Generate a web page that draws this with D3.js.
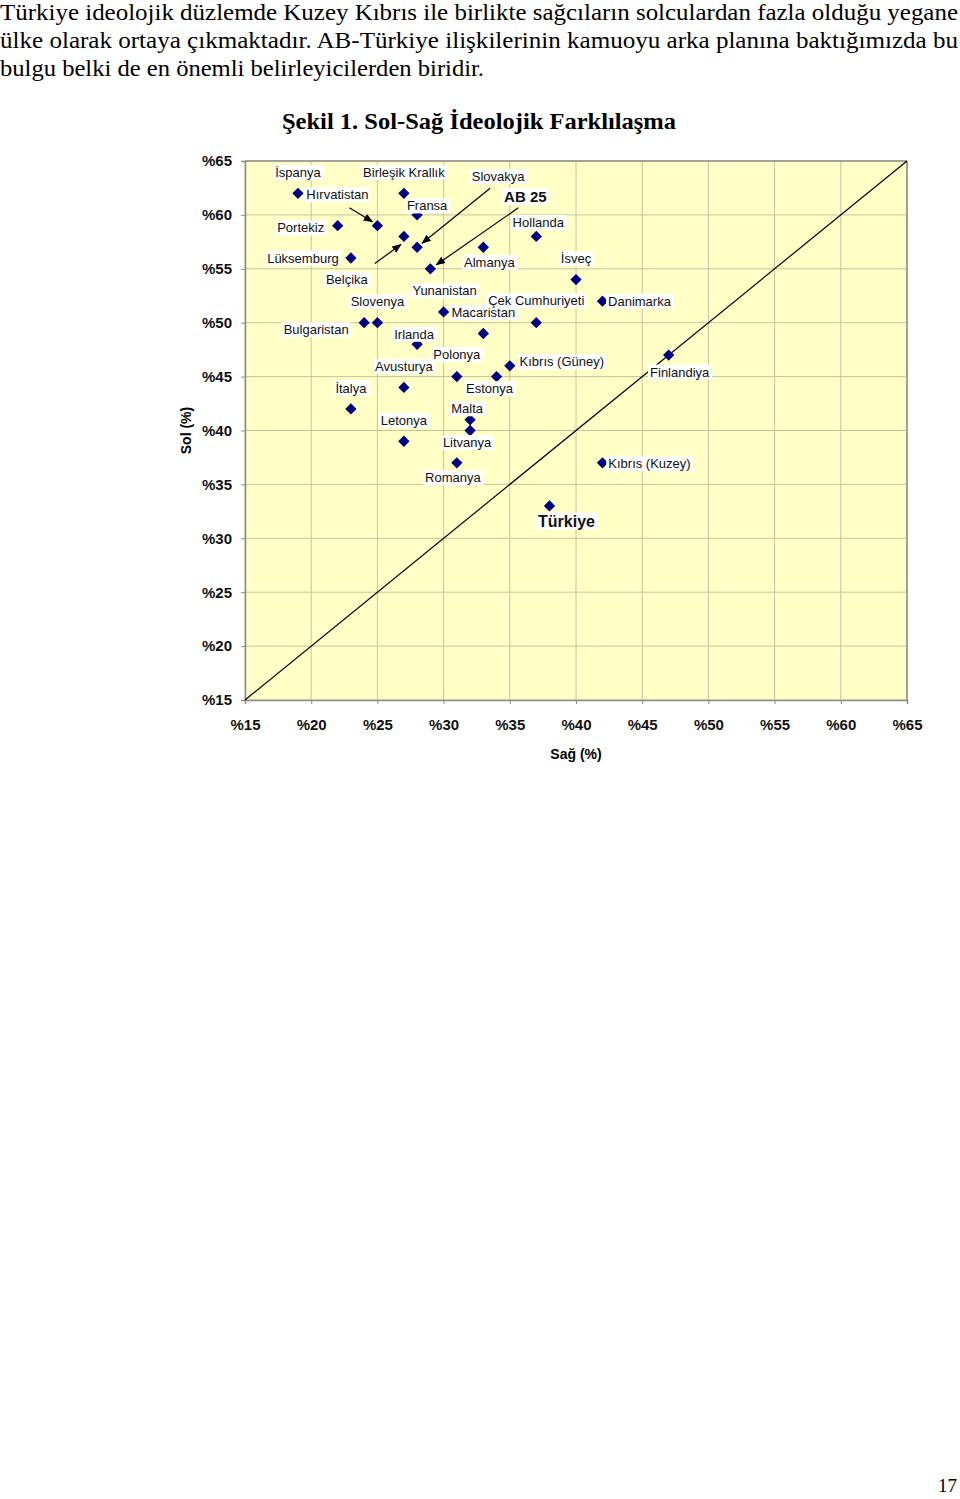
<!DOCTYPE html>
<html><head><meta charset="utf-8">
<script src="https://cdn.jsdelivr.net/npm/d3@7"></script>
<style>body{margin:0;background:#fff}svg{display:block}</style>
</head><body>
<svg id="chart" width="960" height="1499"></svg>
<script>
// ---- data ----
const countries = ["İspanya","Hırvatistan","Birleşik Krallık","Fransa","Portekiz","Belçika","Slovakya","AB 25","Lüksemburg","Almanya","Hollanda","İsveç","Danimarka","Yunanistan","Macaristan","Çek Cumhuriyeti","Slovenya","Bulgaristan","Irlanda","Avusturya","Polonya","Estonya","Kıbrıs (Güney)","Finlandiya","İtalya","Letonya","Malta","Litvanya","Romanya","Kıbrıs (Kuzey)","Türkiye"];
const sag = [19,25,27,28,22,27,28,29,23,33,37,40,42,30,33,37,25,24,28,27,31,34,35,47,23,27,32,32,31,42,38];
const sol = [62,59,62,60,59,58,57,55,56,57,58,54,52,51,49,50,50,50,48,44,45,45,46,47,42,39,41,40,37,37,33];
const tickValues = [15,20,25,30,35,40,45,50,55,60,65];
const tickLabels = ["%15","%20","%25","%30","%35","%40","%45","%50","%55","%60","%65"];
const headerLines = ["Türkiye ideolojik düzlemde Kuzey Kıbrıs ile birlikte sağcıların solculardan fazla olduğu yegane",
  "ülke olarak ortaya çıkmaktadır. AB-Türkiye ilişkilerinin kamuoyu arka planına baktığımızda bu",
  "bulgu belki de en önemli belirleyicilerden biridir."];
const chartTitle = "Şekil 1. Sol-Sağ İdeolojik Farklılaşma";
const xTitle = "Sağ (%)", yTitle = "Sol (%)";
const pageNumber = "17";

// ---- label layout (pixel offsets from point: dx,dy of label centre; optional arrow) ----
const labelLayout = {
  "İspanya":[0,-21],"Hırvatistan":[-40,-31,[-28,-18,-5,-4]],"Birleşik Krallık":[0,-21],"Fransa":[10,-9],
  "Portekiz":[-37,2],"Belçika":[-57,43,[-29,27,-3,8]],"Slovakya":[81,-71,[73,-59,5,-4]],"AB 25":[95,-72,[88,-61,6,-4]],
  "Lüksemburg":[-48,0],"Almanya":[6,15],"Hollanda":[2,-14],"İsveç":[0,-21],"Danimarka":[37,0],
  "Yunanistan":[1,-21],"Macaristan":[0,-21],"Çek Cumhuriyeti":[0,-22],"Slovenya":[0,-21],"Bulgaristan":[-48,7],
  "Irlanda":[-3,-10],"Avusturya":[0,-21],"Polonya":[0,-22],"Estonya":[-7,12],"Kıbrıs (Güney)":[52,-4],
  "Finlandiya":[11,17],"İtalya":[0,-21],"Letonya":[0,-21],"Malta":[-3,-11],"Litvanya":[-3,12],
  "Romanya":[-4,15],"Kıbrıs (Kuzey)":[47,1],"Türkiye":[17,15]
};
const boldLabels = {"AB 25":15,"Türkiye":16};

const svg = d3.select("#chart");

// header
svg.selectAll("text.hdr").data(headerLines).join("text")
  .attr("class","hdr").attr("x",0).attr("y",(d,i)=>20+i*28)
  .attr("font-family","'Liberation Serif','Times New Roman',serif").attr("font-size",24)
  .attr("textLength",(d,i)=>i<2?958:484).attr("lengthAdjust","spacingAndGlyphs")
  .text(d=>d);

svg.append("text").attr("x",479).attr("y",129).attr("text-anchor","middle")
  .attr("font-family","'Liberation Serif','Times New Roman',serif").attr("font-size",24).attr("font-weight","bold")
  .attr("textLength",394).attr("lengthAdjust","spacingAndGlyphs")
  .text(chartTitle);

// scales
const x = d3.scaleLinear().domain([15,65]).range([245,907]);
const y = d3.scaleLinear().domain([15,65]).range([700,161]);

const g = svg.append("g");
g.append("rect").attr("x",x(15)).attr("y",y(65)).attr("width",x(65)-x(15)).attr("height",y(15)-y(65))
  .attr("fill","#ffffc6");

// gridlines
g.append("g").selectAll("line").data(tickValues).join("line")
  .attr("x1",d=>x(d)).attr("x2",d=>x(d)).attr("y1",y(15)).attr("y2",y(65))
  .attr("stroke","#c4c4a0").attr("stroke-width",1);
g.append("g").selectAll("line").data(tickValues).join("line")
  .attr("y1",d=>y(d)).attr("y2",d=>y(d)).attr("x1",x(15)).attr("x2",x(65))
  .attr("stroke","#c4c4a0").attr("stroke-width",1);

// axes
const fmt = d => tickLabels[tickValues.indexOf(d)];
const xAxis = g.append("g").attr("transform",`translate(0,${y(15)})`)
  .call(d3.axisBottom(x).tickValues(tickValues).tickFormat(fmt).tickSize(4).tickPadding(15));
const yAxis = g.append("g").attr("transform",`translate(${x(15)},0)`)
  .call(d3.axisLeft(y).tickValues(tickValues).tickFormat(fmt).tickSize(4).tickPadding(9));
[xAxis,yAxis].forEach(a=>{
  a.select(".domain").attr("stroke","#8c8c8c").attr("stroke-width",1.5);
  a.selectAll(".tick line").attr("stroke","#8c8c8c");
  a.selectAll(".tick text").attr("font-family","Arial,'Liberation Sans',sans-serif")
    .attr("font-size",15).attr("font-weight","bold").attr("fill","#111");
});
g.append("line").attr("x1",x(65)).attr("x2",x(65)).attr("y1",y(15)).attr("y2",y(65)).attr("stroke","#8c8c8c").attr("stroke-width",1.5);
g.append("line").attr("x1",x(15)).attr("x2",x(65)).attr("y1",y(65)).attr("y2",y(65)).attr("stroke","#8c8c8c").attr("stroke-width",1.5);

// diagonal
g.append("line").attr("x1",x(15)).attr("y1",y(15)).attr("x2",x(65)).attr("y2",y(65))
  .attr("stroke","#000").attr("stroke-width",1.2);

// axis titles
svg.append("text").attr("x",x(40)).attr("y",759).attr("text-anchor","middle")
  .attr("font-family","Arial,'Liberation Sans',sans-serif").attr("font-size",14).attr("font-weight","bold").text(xTitle);
svg.append("text").attr("transform",`translate(191,${y(40)}) rotate(-90)`).attr("text-anchor","middle")
  .attr("font-family","Arial,'Liberation Sans',sans-serif").attr("font-size",14).attr("font-weight","bold").text(yTitle);

// points
const pts = countries.map((c,i)=>({name:c,x:sag[i],y:sol[i]}));
g.append("g").selectAll("path").data(pts).join("path")
  .attr("d",d3.symbol(d3.symbolSquare,64)())
  .attr("transform",d=>`translate(${x(d.x)},${y(d.y)}) rotate(45)`)
  .attr("fill","#000080");

// arrows
svg.append("defs").append("marker").attr("id","ah").attr("viewBox","0 0 10 10").attr("refX",9).attr("refY",5)
  .attr("markerWidth",8).attr("markerHeight",8).attr("orient","auto-start-reverse")
  .append("path").attr("d","M0,1 L10,5 L0,9 Z").attr("fill","#000");
const arrowPts = pts.filter(d=>labelLayout[d.name] && labelLayout[d.name][2]);
g.append("g").selectAll("line").data(arrowPts).join("line")
  .attr("x1",d=>x(d.x)+labelLayout[d.name][2][0]).attr("y1",d=>y(d.y)+labelLayout[d.name][2][1])
  .attr("x2",d=>x(d.x)+labelLayout[d.name][2][2]).attr("y2",d=>y(d.y)+labelLayout[d.name][2][3])
  .attr("stroke","#000").attr("stroke-width",1.2).attr("marker-end","url(#ah)");

// labels
const lab = g.append("g").selectAll("g").data(pts).join("g")
  .attr("transform",d=>{const o=labelLayout[d.name];return `translate(${x(d.x)+o[0]},${y(d.y)+o[1]})`;});
lab.each(function(d){
  const s = d3.select(this);
  const bold = boldLabels[d.name];
  const t = s.append("text").attr("text-anchor","middle").attr("dy","0.35em")
    .attr("font-family","Arial,'Liberation Sans',sans-serif")
    .attr("font-size",bold||13).attr("font-weight",bold?"bold":"normal").attr("fill","#111").text(d.name);
  const bb = t.node().getBBox();
  s.insert("rect","text").attr("x",bb.x-2).attr("y",bb.y).attr("width",bb.width+4).attr("height",bb.height)
    .attr("fill","#fff");
});

// page number
svg.append("text").attr("x",957).attr("y",1492).attr("text-anchor","end")
  .attr("font-family","'Liberation Serif','Times New Roman',serif").attr("font-size",19).text(pageNumber);
</script>
</body></html>
